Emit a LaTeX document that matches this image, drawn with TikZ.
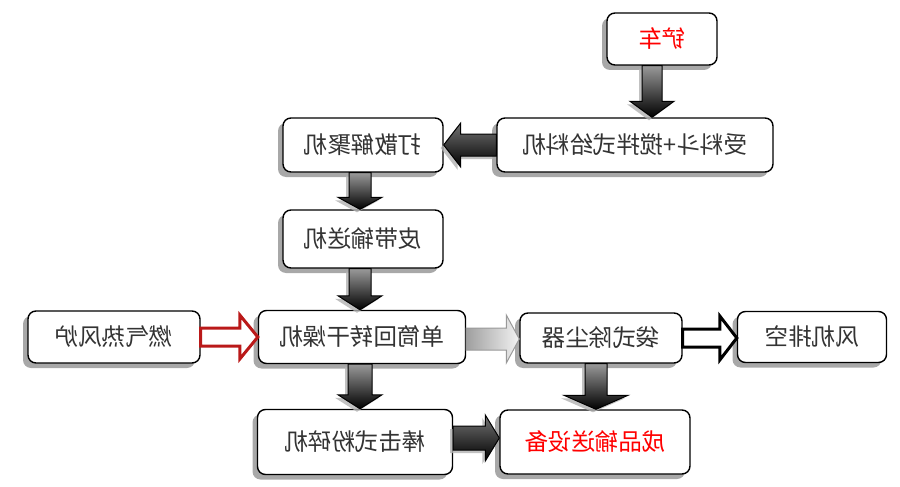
\documentclass[tikz,border=0pt]{standalone}
\usepackage{fontspec}
\newfontfamily\cjk{Noto Sans CJK SC}
\usetikzlibrary{calc,shadows}
\newcommand\mir[1]{\scalebox{-1}[1]{#1}}
% vertical block arrow: style, from, to, dx, shaft half, head half, head length
\newcommand\varr[7]{%
\draw[#1] ($(#2.south)+(#4-#5,0)$) -- ($(#3.north -| #2.south)+(#4-#5,-#7)$) -- ($(#3.north -| #2.south)+(#4-#6,-#7)$) -- ($(#3.north -| #2.south)+(#4,0)$) -- ($(#3.north -| #2.south)+(#4+#6,-#7)$) -- ($(#3.north -| #2.south)+(#4+#5,-#7)$) -- ($(#2.south)+(#4+#5,0)$) -- cycle;}
% right block arrow
\newcommand\rarr[7]{%
\draw[#1] ($(#2.east)+(0,#4-#5)$) -- ($(#3.west |- #2.east)+(-#7,#4-#5)$) -- ($(#3.west |- #2.east)+(-#7,#4-#6)$) -- ($(#3.west |- #2.east)+(0,#4)$) -- ($(#3.west |- #2.east)+(-#7,#4+#6)$) -- ($(#3.west |- #2.east)+(-#7,#4+#5)$) -- ($(#2.east)+(0,#4+#5)$) -- cycle;}
% left block arrow
\newcommand\larr[7]{%
\draw[#1] ($(#2.west)+(0,#4-#5)$) -- ($(#3.east |- #2.west)+(#7,#4-#5)$) -- ($(#3.east |- #2.west)+(#7,#4-#6)$) -- ($(#3.east |- #2.west)+(0,#4)$) -- ($(#3.east |- #2.west)+(#7,#4+#6)$) -- ($(#3.east |- #2.west)+(#7,#4+#5)$) -- ($(#2.west)+(0,#4+#5)$) -- cycle;}
\begin{document}
\begin{tikzpicture}[x=1pt,y=-1pt,
  box/.style={draw=black, line width=1.4pt, rounded corners=8pt, fill=white,
    drop shadow={shadow xshift=-5pt, shadow yshift=-5pt, fill=gray!75, opacity=0.9},
    inner sep=0pt, font=\cjk\fontsize{23.5}{24}\selectfont, text=black!80},
  redtext/.style={text=red},
  darrow/.style={draw=black, line width=1pt, top color=black!40, bottom color=black,
    drop shadow={shadow xshift=-3pt, shadow yshift=-3pt, fill=gray!60, opacity=0.8}},
  harrow/.style={draw=black, line width=1pt, top color=black!55, bottom color=black,
    drop shadow={shadow xshift=-3pt, shadow yshift=-3pt, fill=gray!60, opacity=0.8}},
  redarrow/.style={draw=red!70!black!90, line width=3pt, fill=white},
  grayarrow/.style={draw=gray!80, line width=1pt, left color=gray!75, right color=gray!10},
  whitearrow/.style={draw=black, line width=3pt, fill=white},
]
\useasboundingbox (0,0) rectangle (900,487);
\node[box, redtext, minimum width=110, minimum height=52] (a) at (662,39) {\mir{铲车}};
\node[box, minimum width=276, minimum height=54] (b) at (635,145) {\mir{受料斗+搅拌式给料机}};
\node[box, minimum width=160, minimum height=54] (c) at (363,145) {\mir{打散解聚机}};
\node[box, minimum width=160, minimum height=58] (d) at (363,239) {\mir{皮带输送机}};
\node[box, minimum width=207, minimum height=53] (e) at (362,337) {\mir{单筒回转干燥机}};
\node[box, minimum width=172, minimum height=52] (f) at (114,337) {\mir{燃气热风炉}};
\node[box, minimum width=162, minimum height=50] (g) at (601,338) {\mir{袋式除尘器}};
\node[box, minimum width=149, minimum height=51] (h) at (812,337) {\mir{风机排空}};
\node[box, minimum width=195, minimum height=65] (i) at (355,442) {\mir{棒击式粉碎机}};
\node[box, redtext, minimum width=190, minimum height=64] (j) at (595,442) {\mir{成品输送设备}};

\varr{darrow}{a}{b}{-10}{10}{22}{16}
\varr{darrow}{c}{d}{-3}{11}{22}{12}
\varr{darrow}{d}{e}{-3}{11}{22}{14}
\varr{darrow}{e}{i}{-2}{12}{22}{14}
\varr{darrow}{g}{j}{-5}{11}{32}{14}
\larr{harrow}{b}{c}{0}{11}{22}{17}
\rarr{redarrow}{f}{e}{0}{9}{22}{18}
\rarr{grayarrow}{e}{g}{2}{11}{24}{13}
\rarr{whitearrow}{g}{h}{0}{9}{22}{17}
\rarr{harrow}{i}{j}{-4}{12}{23}{14}
\end{tikzpicture}
\end{document}
